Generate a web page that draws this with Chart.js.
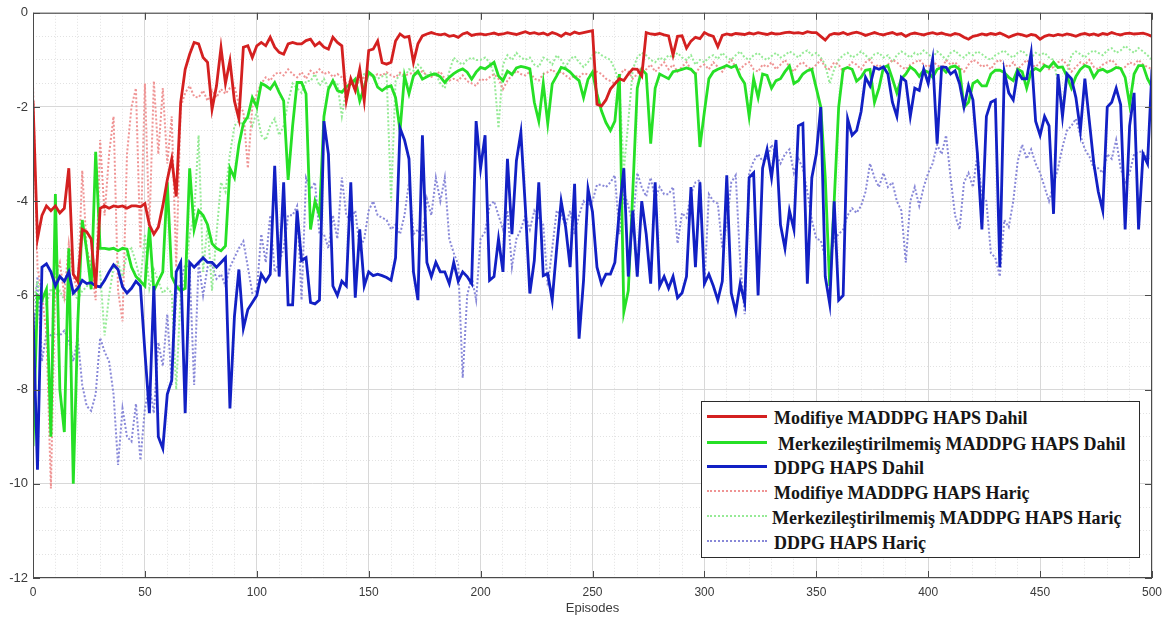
<!DOCTYPE html>
<html>
<head>
<meta charset="utf-8">
<script src="https://cdn.jsdelivr.net/npm/chart.js@4"></script>
<style>
  body { margin: 0; background: #fff; }
  #wrap { position: relative; width: 1170px; height: 621px; }
  #legend {
    position: absolute; left: 701px; top: 401px; width: 437px; height: 155px;
    border: 1.5px solid #2b2b2b; background: #fff;
  }
  .row {
    position: absolute; left: 707px; height: 24px; display: flex; align-items: center;
    font-family: "Liberation Serif", "Times New Roman", serif; font-weight: bold;
    font-size: 18px; color: #161616; white-space: pre;
  }
  .sample { display: inline-block; width: 60px; height: 0; }
  .label { position: relative; top: 2px; }
</style>
</head>
<body>
<div id="wrap">
  <canvas id="chart1" width="1170" height="621"></canvas>
  <div id="legend"></div>
</div>
<script>
// episode index, one point every 2 episodes
const episodes = Array.from({ length: 251 }, (_, i) => i * 2);

const xTicks = [0, 50, 100, 150, 200, 250, 300, 350, 400, 450, 500];
const yTicks = [0, -2, -4, -6, -8, -10, -12];

const labels = [
  "Modifiye MADDPG HAPS Dahil",
  " Merkezileştirilmemiş MADDPG HAPS Dahil",
  "DDPG HAPS Dahil",
  "Modifiye MADDPG HAPS Hariç",
  "Merkezileştirilmemiş MADDPG HAPS Hariç",
  "DDPG HAPS Hariç",
];

const modifiyeDahil = [
  -1.87,-4.8,-4.3,-4.1,-4.2,-4.1,-4.25,-4.15,-3.3,-5.55,-5.7,-4.6,-4.65,-4.8,-5.85,-4.15,-4.1,-4.15,-4.1,-4.12,-4.1,-4.15,-4.1,-4.1,-4.12,
  -4.05,-4.5,-4.7,-4.55,-4.1,-3.55,-3.1,-3.9,-1.9,-1.2,-0.88,-0.63,-0.66,-0.95,-1.05,-2.05,-1.55,-0.74,-1.5,-1.02,-1.87,-2.25,-0.73,-0.7,-0.95,
  -0.7,-0.63,-0.7,-0.52,-0.73,-0.84,-0.88,-0.66,-0.63,-0.66,-0.66,-0.59,-0.56,-0.7,-0.63,-0.73,-0.77,-0.52,-0.63,-0.7,-1.87,-1.4,-1.65,-1.2,-1.87,
  -0.8,-0.77,-0.6,-1.06,-1.09,-1.05,-0.6,-0.45,-0.52,-0.5,-1.05,-0.66,-0.49,-0.45,-0.42,-0.45,-0.47,-0.45,-0.5,-0.48,-0.52,-0.45,-0.42,-0.48,-0.46,
  -0.45,-0.47,-0.45,-0.43,-0.46,-0.45,-0.42,-0.44,-0.46,-0.43,-0.4,-0.44,-0.42,-0.45,-0.43,-0.47,-0.42,-0.45,-0.5,-0.43,-0.46,-0.41,-0.44,-0.42,-0.4,
  -0.38,-1.94,-1.98,-1.85,-1.62,-1.51,-1.4,-1.44,-1.3,-1.19,-1.2,-1.34,-0.42,-0.45,-0.46,-0.44,-0.47,-0.49,-0.9,-0.5,-0.49,-0.75,-0.6,-0.52,-0.55,
  -0.42,-0.47,-0.5,-0.72,-0.48,-0.45,-0.47,-0.44,-0.45,-0.46,-0.43,-0.45,-0.42,-0.44,-0.46,-0.43,-0.45,-0.44,-0.42,-0.41,-0.43,-0.42,-0.44,-0.4,-0.42,
  -0.42,-0.5,-0.58,-0.47,-0.44,-0.45,-0.42,-0.46,-0.43,-0.41,-0.44,-0.48,-0.45,-0.42,-0.45,-0.47,-0.44,-0.42,-0.46,-0.44,-0.5,-0.45,-0.43,-0.45,-0.47,
  -0.44,-0.42,-0.45,-0.43,-0.46,-0.48,-0.44,-0.46,-0.52,-0.56,-0.5,-0.48,-0.45,-0.47,-0.44,-0.46,-0.43,-0.47,-0.52,-0.48,-0.45,-0.47,-0.5,-0.46,-0.48,
  -0.56,-0.5,-0.47,-0.49,-0.46,-0.48,-0.45,-0.47,-0.5,-0.46,-0.44,-0.47,-0.45,-0.48,-0.44,-0.46,-0.42,-0.45,-0.47,-0.44,-0.43,-0.45,-0.44,-0.43,-0.46,-0.5,
];

const merkeziDahil = [
  -9.2,-6.0,-6.1,-5.87,-9.0,-3.85,-8.0,-8.9,-5.0,-10.0,-6.6,-4.4,-5.05,-5.87,-2.95,-5.0,-5.0,-5.02,-5.0,-5.05,-5.0,-5.02,-5.4,-5.6,-5.7,
  -5.8,-4.55,-5.9,-5.7,-5.5,-3.6,-5.6,-5.8,-5.9,-5.85,-3.3,-4.6,-4.2,-4.3,-4.5,-4.9,-5.0,-5.05,-4.95,-3.3,-3.5,-2.8,-2.35,-2.2,-1.8,
  -2.0,-1.5,-1.55,-1.62,-1.48,-1.69,-1.87,-3.55,-2.4,-1.48,-1.48,-1.72,-4.6,-4.0,-4.3,-2.2,-1.62,-1.44,-1.65,-1.69,-1.57,-1.51,-1.41,-1.87,-1.58,
  -1.26,-1.34,-1.58,-1.65,-1.58,-1.55,-1.8,-2.5,-1.34,-1.72,-1.34,-1.24,-1.41,-1.36,-1.31,-1.3,-1.36,-1.48,-1.37,-1.29,-1.23,-1.19,-1.26,-1.41,-1.26,
  -1.16,-1.19,-1.12,-1.05,-1.34,-1.44,-1.24,-1.31,-1.17,-1.14,-1.16,-1.19,-1.9,-2.3,-1.5,-2.35,-1.51,-1.34,-1.16,-1.19,-1.26,-1.36,-1.44,-1.8,-1.41,
  -1.26,-1.72,-2.08,-2.33,-2.5,-2.3,-1.3,-6.35,-5.9,-3.8,-1.6,-1.2,-1.3,-2.78,-1.6,-1.3,-1.35,-1.4,-1.25,-1.23,-1.2,-1.17,-1.2,-1.3,-2.85,
  -2.1,-1.4,-1.25,-1.2,-1.16,-1.12,-1.16,-1.12,-1.35,-1.5,-2.2,-1.4,-1.8,-1.3,-1.33,-1.6,-1.44,-1.4,-1.25,-1.13,-1.5,-1.44,-1.3,-1.23,-1.2,
  -1.6,-2.0,-3.5,-5.8,-4.0,-2.0,-1.2,-1.16,-1.2,-1.45,-1.37,-1.22,-1.2,-1.9,-1.6,-1.16,-1.12,-1.4,-1.7,-1.4,-1.3,-1.15,-1.22,-1.35,-1.22,
  -1.26,-1.37,-1.2,-1.16,-1.26,-1.15,-1.13,-1.2,-2.0,-1.9,-1.5,-1.44,-1.55,-1.55,-1.3,-1.22,-1.22,-1.27,-1.37,-1.44,-1.2,-1.25,-1.6,-1.25,-1.18,
  -1.23,-1.12,-1.16,-1.05,-1.16,-1.15,-1.35,-1.6,-1.35,-1.2,-1.12,-1.16,-1.37,-1.23,-1.2,-1.26,-1.22,-1.16,-1.18,-1.37,-1.95,-1.3,-1.12,-1.12,-1.4,-1.58,
];

const ddpgDahil = [
  -6.36,-9.7,-5.4,-5.33,-5.5,-5.8,-5.6,-5.7,-5.5,-5.95,-5.85,-5.68,-5.75,-5.73,-5.8,-5.82,-5.68,-5.5,-5.35,-5.45,-5.82,-5.95,-5.85,-5.7,-5.8,
  -7.2,-8.5,-5.8,-9.0,-9.25,-8.1,-7.8,-5.5,-5.3,-8.5,-5.3,-5.4,-5.3,-5.2,-5.3,-5.3,-5.4,-5.3,-5.2,-8.4,-6.45,-5.45,-6.7,-6.3,-6.15,
  -6.0,-5.55,-5.7,-5.55,-3.25,-5.6,-3.6,-6.2,-6.2,-4.2,-5.26,-5.2,-6.15,-6.18,-6.1,-2.3,-3.0,-5.8,-6.0,-5.7,-5.8,-3.6,-6.05,-4.6,-5.8,
  -5.5,-5.58,-5.55,-5.58,-5.62,-5.68,-5.2,-2.45,-2.7,-3.1,-5.5,-6.1,-2.6,-5.3,-5.6,-5.3,-5.5,-5.5,-5.75,-5.3,-5.7,-5.5,-5.6,-5.75,-2.3,
  -3.3,-2.6,-5.68,-5.6,-4.8,-5.5,-3.1,-4.7,-3.14,-2.54,-4.13,-5.96,-5.26,-3.6,-5.58,-5.54,-6.1,-5.0,-4.0,-4.55,-5.4,-3.63,-6.92,-5.68,-3.74,
  -4.23,-5.4,-5.75,-5.55,-5.55,-5.3,-4.2,-3.3,-5.6,-4.2,-5.6,-4.0,-4.7,-5.75,-3.6,-5.8,-5.6,-5.85,-5.6,-6.05,-5.95,-5.6,-3.7,-5.4,-3.6,
  -5.75,-5.55,-5.8,-6.1,-5.7,-3.45,-5.95,-6.35,-5.75,-6.15,-3.5,-3.4,-6.0,-3.3,-2.9,-3.5,-2.7,-4.5,-5.0,-4.2,-4.6,-2.4,-2.35,-5.75,-3.5,
  -3.0,-2.0,-5.6,-6.18,-4.0,-6.1,-6.0,-2.25,-2.6,-2.5,-2.1,-1.37,-1.55,-1.16,-1.2,-1.15,-1.3,-1.9,-2.2,-1.37,-1.45,-2.2,-1.6,-1.65,-1.2,
  -1.5,-0.98,-2.78,-1.15,-1.16,-1.3,-1.23,-1.5,-2.0,-1.55,-1.85,-3.0,-4.6,-2.2,-1.9,-1.85,-5.4,-1.25,-1.7,-1.85,-1.25,-1.4,-1.4,-0.85,-2.3,
  -2.6,-2.2,-2.4,-4.27,-1.3,-2.2,-1.3,-1.4,-1.8,-2.5,-1.4,-2.3,-3.2,-3.8,-4.2,-2.0,-1.9,-1.6,-1.95,-4.6,-2.4,-1.7,-4.6,-3.0,-3.2,-1.2,
];

const modifiyeHaric = [
  -1.5,-5.4,-6.0,-6.8,-10.1,-5.6,-5.3,-6.0,-4.9,-5.6,-5.9,-3.35,-5.0,-5.4,-6.1,-2.7,-4.3,-3.0,-2.2,-5.9,-6.55,-3.0,-2.0,-1.6,-5.0,
  -1.5,-4.6,-1.45,-3.0,-1.6,-3.2,-2.2,-5.4,-2.0,-1.7,-1.55,-1.78,-1.8,-1.65,-1.87,-1.65,-1.8,-1.62,-1.72,-1.6,-1.55,-1.95,-2.1,-3.3,-2.0,
  -1.72,-1.5,-1.37,-1.44,-1.3,-1.26,-1.33,-1.2,-1.3,-1.37,-1.26,-1.4,-1.23,-1.3,-1.2,-1.3,-1.26,-1.36,-1.3,-1.37,-1.5,-1.44,-1.55,-1.44,-1.37,
  -1.3,-1.36,-1.3,-1.33,-1.26,-1.33,-1.37,-1.27,-1.33,-1.3,-1.27,-1.3,-1.24,-1.33,-1.36,-1.3,-1.25,-1.4,-1.44,-1.4,-1.44,-1.33,-1.45,-1.5,-1.55,
  -1.4,-1.44,-1.37,-1.3,-1.4,-1.62,-1.44,-1.33,-1.23,-1.3,-1.33,-1.25,-1.4,-1.44,-1.3,-1.26,-1.2,-1.3,-1.25,-1.33,-1.4,-1.33,-1.37,-1.28,-1.31,
  -1.33,-1.25,-1.3,-1.4,-1.45,-1.5,-1.35,-1.2,-1.25,-1.4,-1.3,-1.15,-1.2,-1.1,-1.25,-1.15,-1.05,-1.2,-1.1,-1.25,-1.15,-1.05,-1.2,-1.3,-1.15,
  -1.1,-1.2,-1.05,-1.15,-1.25,-1.1,-1.0,-1.15,-1.2,-1.1,-1.05,-1.2,-1.25,-1.1,-1.15,-1.05,-1.2,-1.1,-1.0,-1.15,-1.25,-1.1,-1.05,-1.15,-1.2,
  -1.1,-1.0,-1.15,-1.2,-1.05,-1.1,-1.25,-1.15,-1.05,-1.1,-1.2,-1.05,-1.0,-1.15,-1.1,-1.2,-1.1,-1.0,-1.05,-1.15,-1.2,-1.1,-1.05,-1.0,-1.1,
  -1.15,-1.05,-1.1,-1.2,-1.0,-1.1,-1.05,-1.15,-1.25,-1.1,-1.0,-1.05,-1.15,-1.1,-1.2,-1.05,-1.0,-1.1,-1.15,-1.05,-1.2,-1.1,-1.0,-1.1,-1.15,
  -1.05,-1.1,-1.2,-1.15,-1.05,-1.0,-1.1,-1.25,-1.15,-1.05,-1.1,-1.0,-1.15,-1.2,-1.1,-1.05,-1.0,-1.1,-1.2,-1.15,-1.05,-1.1,-1.0,-1.1,-1.15,-1.2,
];

const merkeziHaric = [
  -6.2,-5.7,-6.1,-6.2,-5.85,-6.0,-5.9,-6.1,-6.0,-5.9,-6.1,-5.9,-5.82,-5.6,-5.55,-5.5,-6.85,-6.0,-5.4,-5.3,-5.6,-5.1,-5.0,-5.3,-5.7,
  -4.7,-5.85,-5.45,-5.7,-5.95,-5.85,-5.95,-8.0,-5.9,-5.6,-4.7,-4.3,-2.6,-5.5,-4.5,-5.9,-4.7,-3.6,-3.8,-3.0,-2.4,-2.3,-2.4,-2.2,-2.4,
  -2.1,-2.6,-2.7,-2.4,-2.25,-2.6,-2.4,-1.9,-1.5,-1.6,-1.7,-1.45,-1.45,-1.3,-1.55,-1.4,-1.6,-1.45,-1.5,-2.2,-1.6,-1.5,-1.44,-1.5,-1.3,
  -1.32,-1.35,-1.4,-1.35,-1.3,-4.0,-1.45,-1.3,-1.37,-1.2,-1.23,-1.1,-1.2,-1.35,-1.25,-1.3,-1.5,-1.6,-1.25,-0.95,-1.05,-1.1,-1.0,-0.95,-1.0,
  -1.0,-0.95,-1.05,-1.3,-2.45,-1.1,-0.9,-1.0,-0.85,-0.95,-1.0,-0.95,-1.1,-1.15,-0.95,-1.0,-1.1,-0.9,-1.0,-1.15,-0.98,-0.92,-1.05,-1.15,-1.05,
  -0.9,-0.82,-0.9,-0.95,-1.0,-1.2,-1.5,-3.35,-2.3,-1.2,-0.95,-0.85,-0.9,-1.0,-1.05,-0.95,-1.0,-0.9,-0.95,-0.85,-0.95,-1.0,-0.9,-1.1,-1.0,
  -1.05,-0.95,-0.9,-0.98,-0.85,-0.95,-1.0,-0.9,-0.82,-0.95,-1.0,-0.9,-0.85,-0.95,-1.0,-0.92,-0.85,-0.95,-0.9,-0.82,-0.88,-0.95,-0.85,-0.8,-0.9,
  -0.85,-0.95,-1.1,-1.5,-1.2,-1.0,-0.9,-0.85,-0.95,-0.9,-0.82,-0.9,-1.0,-0.88,-0.85,-0.95,-0.9,-1.05,-0.9,-0.82,-0.88,-0.95,-0.85,-0.9,-0.8,
  -0.88,-0.95,-0.82,-0.9,-1.0,-0.85,-0.8,-0.9,-0.95,-0.85,-0.9,-0.82,-0.88,-0.95,-1.0,-0.9,-0.85,-0.8,-0.9,-0.95,-0.85,-0.8,-0.9,-0.95,-0.85,
  -0.9,-0.85,-0.95,-1.0,-1.5,-2.0,-1.3,-0.9,-0.82,-0.88,-0.95,-0.85,-0.8,-0.85,-0.9,-0.8,-0.75,-0.85,-0.8,-0.7,-0.78,-0.85,-0.75,-0.82,-0.9,-1.0,
];

const ddpgHaric = [
  -7.1,-5.6,-7.4,-6.8,-6.85,-6.8,-6.85,-6.75,-6.95,-7.4,-6.9,-7.9,-8.35,-8.45,-8.1,-6.9,-7.2,-7.4,-8.1,-9.6,-8.4,-9.0,-9.1,-8.3,-9.5,
  -8.4,-7.9,-8.5,-7.0,-7.5,-6.4,-7.9,-6.0,-5.7,-5.35,-5.45,-7.9,-5.3,-6.0,-5.4,-5.35,-5.65,-5.55,-5.8,-5.4,-5.2,-5.0,-4.85,-5.4,-5.95,
  -5.9,-4.7,-5.3,-4.3,-5.5,-5.3,-5.0,-4.3,-4.3,-4.1,-6.1,-3.5,-3.75,-3.6,-4.7,-4.7,-5.0,-4.3,-4.8,-3.5,-4.3,-4.4,-4.2,-5.0,-4.8,
  -4.2,-4.0,-4.3,-4.35,-4.4,-4.6,-4.5,-4.7,-4.3,-3.6,-4.7,-4.6,-4.8,-3.95,-4.3,-3.5,-4.0,-3.5,-4.8,-5.1,-5.35,-7.75,-6.0,-5.6,-6.1,
  -4.8,-4.65,-4.1,-4.0,-4.3,-4.6,-4.2,-5.4,-4.8,-4.6,-4.3,-4.6,-4.2,-4.35,-4.5,-5.8,-5.0,-4.2,-4.3,-4.5,-4.2,-4.7,-4.3,-4.0,-4.1,
  -4.0,-3.65,-3.65,-3.7,-3.6,-3.45,-4.7,-3.8,-4.1,-4.5,-3.4,-3.7,-3.9,-3.5,-3.95,-3.7,-3.85,-3.85,-3.7,-4.9,-4.25,-4.35,-3.85,-3.6,-3.55,
  -5.8,-3.85,-4.0,-4.05,-5.0,-4.5,-3.6,-3.45,-5.3,-6.4,-3.4,-3.15,-3.0,-3.15,-3.1,-2.8,-3.0,-3.2,-3.0,-2.9,-3.4,-3.1,-3.3,-3.8,-4.4,
  -4.8,-4.83,-5.2,-5.25,-4.8,-4.7,-4.6,-4.3,-4.15,-4.25,-4.1,-3.8,-3.2,-3.5,-3.7,-3.4,-3.7,-3.6,-4.0,-4.2,-5.3,-4.0,-3.7,-4.1,-3.7,
  -3.4,-3.2,-2.8,-3.0,-2.6,-3.5,-4.3,-4.6,-3.6,-3.4,-3.7,-3.0,-3.9,-4.0,-5.1,-5.2,-5.6,-4.4,-4.55,-4.0,-3.15,-2.8,-3.1,-2.9,-3.2,
  -3.4,-3.7,-4.0,-3.65,-3.3,-2.85,-2.5,-2.4,-2.25,-2.6,-2.9,-3.05,-3.3,-3.3,-3.4,-3.0,-3.1,-2.7,-3.3,-3.6,-3.4,-3.0,-2.95,-2.95,-3.1,-3.05,
];

const colors = ["#d42020", "#26e026", "#1220c4", "#ef9494", "#96ea96", "#8888d8"];
const series = [modifiyeDahil, merkeziDahil, ddpgDahil, modifiyeHaric, merkeziHaric, ddpgHaric];
// which series sit on top (lower = drawn later)
const drawOrder = [1, 3, 2, 4, 5, 6];

const toPoints = function (values) {
  return values.map((v, i) => ({ x: episodes[i], y: v }));
};

const makeDatasets = function () {
  return series.map((values, i) => {
    const dotted = i >= 3;
    return {
      label: labels[i],
      data: toPoints(values),
      borderColor: colors[i],
      borderWidth: dotted ? 2 : 2.8,
      borderDash: dotted ? [2, 2] : [],
      pointRadius: 0,
      tension: 0,
      order: drawOrder[i],
    };
  });
};

// box around the plot and inward tick marks, like the original figure
const framePlugin = {
  id: "frame",
  afterDatasetsDraw(chart) {
    const { ctx, chartArea: a, scales } = chart;
    ctx.save();
    ctx.strokeStyle = "#4a4a4a";
    ctx.lineWidth = 1;
    ctx.strokeRect(a.left + 0.5, a.top + 0.5, a.right - a.left - 1, a.bottom - a.top - 1);
    ctx.beginPath();
    xTicks.forEach((t) => {
      const px = Math.round(scales.x.getPixelForValue(t)) + 0.5;
      ctx.moveTo(px, a.bottom);
      ctx.lineTo(px, a.bottom - 7);
      ctx.moveTo(px, a.top);
      ctx.lineTo(px, a.top + 7);
    });
    yTicks.forEach((t) => {
      const py = Math.round(scales.y.getPixelForValue(t)) + 0.5;
      ctx.moveTo(a.left, py);
      ctx.lineTo(a.left + 7, py);
      ctx.moveTo(a.right, py);
      ctx.lineTo(a.right - 7, py);
    });
    ctx.stroke();
    ctx.restore();
  },
};

const buildLegend = function () {
  const wrap = document.getElementById("wrap");
  const rowY = [416, 442, 466, 491, 516, 541];
  const gap = [7, 11, 7, 7, 5, 7];
  labels.forEach((text, i) => {
    const row = document.createElement("div");
    row.className = "row";
    row.style.top = rowY[i] - 12 + "px";
    const sample = document.createElement("span");
    sample.className = "sample";
    sample.style.borderTop = i >= 3 ? "2px dotted " + colors[i] : "3px solid " + colors[i];
    const label = document.createElement("span");
    label.className = "label";
    label.style.marginLeft = gap[i] + "px";
    label.textContent = text.trim();
    row.appendChild(sample);
    row.appendChild(label);
    wrap.appendChild(row);
  });
};

const start = function () {
  Chart.defaults.font.family = "'Liberation Sans', Arial, sans-serif";
  const tickFont = { size: 12 };

  new Chart(document.getElementById("chart1"), {
    type: "line",
    data: { datasets: makeDatasets() },
    plugins: [framePlugin],
    options: {
      responsive: false,
      animation: false,
      layout: { padding: { top: 12, right: 18, left: 0, bottom: 0 } },
      plugins: { legend: { display: false }, tooltip: { enabled: false } },
      scales: {
        x: {
          type: "linear", min: 0, max: 500, position: "bottom",
          ticks: { stepSize: 50, padding: 7, color: "#3a3a3a", font: tickFont, maxRotation: 0 },
          grid: { color: "#d8d8d8", drawTicks: false },
          border: { display: false },
          title: { display: true, text: "Episodes", color: "#3a3a3a", font: { size: 13 }, padding: { top: 0, bottom: 5 } },
          afterFit(scale) { scale.height = 43; },
        },
        xMinor: {
          type: "linear", min: 0, max: 500, position: "bottom",
          ticks: { stepSize: 10, display: false },
          grid: {
            drawTicks: false,
            color: (c) => (c.tick && c.tick.value % 50 === 0 ? "rgba(0,0,0,0)" : "#e2e2e2"),
          },
          border: { display: false, dash: [1, 2] },
          afterFit(scale) { scale.height = 0; },
        },
        y: {
          min: -12, max: 0,
          ticks: { stepSize: 2, padding: 5, color: "#3a3a3a", font: { size: 13 } },
          grid: { color: "#d8d8d8", drawTicks: false },
          border: { display: false },
          afterFit(scale) { scale.width = 33; },
        },
        yMinor: {
          type: "linear", min: -12, max: 0, position: "left",
          ticks: { stepSize: 0.5, display: false },
          grid: {
            drawTicks: false,
            color: (c) => (c.tick && c.tick.value % 2 === 0 ? "rgba(0,0,0,0)" : "#e2e2e2"),
          },
          border: { display: false, dash: [1, 2] },
          afterFit(scale) { scale.width = 0; },
        },
      },
    },
  });

  buildLegend();
};

start();
</script>
</body>
</html>
